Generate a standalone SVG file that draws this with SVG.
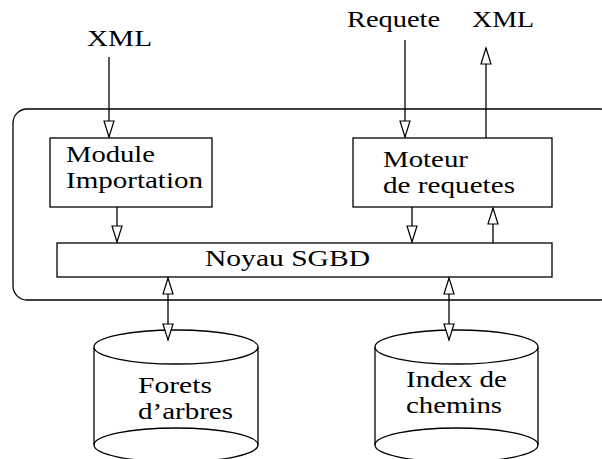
<svg xmlns="http://www.w3.org/2000/svg" width="602" height="459" viewBox="0 0 602 459">
<defs>
<style>
.box{fill:#fff;stroke:#000;stroke-width:1.3}
.frame{fill:none;stroke:#000;stroke-width:1.3}
.cyl{fill:#fff;stroke:#000;stroke-width:1.3}
.t{font-family:"Liberation Serif","Times New Roman",serif;font-size:22.5px;fill:#000}
.c line{stroke:#000;stroke-width:1.3;marker-end:url(#ah)}
.c line.bi{marker-start:url(#ahs)}
</style>
<marker id="ah" markerUnits="userSpaceOnUse" markerWidth="17" markerHeight="12" refX="16.5" refY="5.5" orient="auto" overflow="visible">
<path d="M0.5,0.5 L16.5,5.5 L0.5,10.5 Z" fill="#fff" stroke="#000" stroke-width="1.2"/>
</marker>
<marker id="ahs" markerUnits="userSpaceOnUse" markerWidth="17" markerHeight="12" refX="16.5" refY="5.5" orient="auto-start-reverse" overflow="visible">
<path d="M0.5,0.5 L16.5,5.5 L0.5,10.5 Z" fill="#fff" stroke="#000" stroke-width="1.2"/>
</marker>
</defs>
<rect fill="#fff" width="602" height="459"/>
<g id="systeme">
<rect class="frame" x="13" y="109" width="602" height="191" rx="14" ry="14"/>
</g>
<g id="label-xml-in">
<text class="t" x="87" y="46" textLength="65" lengthAdjust="spacingAndGlyphs">XML</text>
</g>
<g id="label-requete">
<text class="t" x="347" y="27" textLength="93" lengthAdjust="spacingAndGlyphs">Requete</text>
</g>
<g id="label-xml-out">
<text class="t" x="472" y="27" textLength="62" lengthAdjust="spacingAndGlyphs">XML</text>
</g>
<g id="module-importation">
<rect class="box" x="50" y="138" width="162" height="69"/>
<text class="t" x="66" y="162" textLength="89" lengthAdjust="spacingAndGlyphs">Module</text>
<text class="t" x="66" y="188" textLength="137" lengthAdjust="spacingAndGlyphs">Importation</text>
</g>
<g id="moteur-requetes">
<rect class="box" x="353" y="138" width="199" height="69"/>
<text class="t" x="383" y="167" textLength="85" lengthAdjust="spacingAndGlyphs">Moteur</text>
<text class="t" x="383" y="193" textLength="132" lengthAdjust="spacingAndGlyphs">de requetes</text>
</g>
<g id="noyau-sgbd">
<rect class="box" x="57" y="243" width="495" height="34"/>
<text class="t" x="205" y="266" textLength="165" lengthAdjust="spacingAndGlyphs">Noyau SGBD</text>
</g>
<g id="forets-arbres">
<path class="cyl" d="M94,347 L94,445 A82,17 0 0 0 258,445 L258,347"/>
<ellipse class="cyl" cx="176" cy="347" rx="82" ry="17"/>
<path class="frame" d="M94,445 A82,17 0 0 1 258,445"/>
<text class="t" x="138" y="393" textLength="74" lengthAdjust="spacingAndGlyphs">Forets</text>
<text class="t" x="138" y="419" textLength="95" lengthAdjust="spacingAndGlyphs">d’arbres</text>
</g>
<g id="index-chemins">
<path class="cyl" d="M375,347 L375,445 A81.5,17 0 0 0 538,445 L538,347"/>
<ellipse class="cyl" cx="456.5" cy="347" rx="81.5" ry="17"/>
<path class="frame" d="M375,445 A81.5,17 0 0 1 538,445"/>
<text class="t" x="406" y="387" textLength="101" lengthAdjust="spacingAndGlyphs">Index de</text>
<text class="t" x="406" y="413" textLength="96" lengthAdjust="spacingAndGlyphs">chemins</text>
</g>
<g id="connecteurs" class="c">
<line x1="109" y1="57" x2="109" y2="137"/>
<line x1="405" y1="40" x2="405" y2="137"/>
<line x1="486" y1="138" x2="486" y2="48"/>
<line x1="117" y1="207" x2="117" y2="242"/>
<line x1="412" y1="207" x2="412" y2="242"/>
<line x1="493" y1="243" x2="493" y2="208"/>
<line class="bi" x1="168" y1="278" x2="168" y2="340"/>
<line class="bi" x1="449" y1="278" x2="449" y2="340"/>
</g>
</svg>
